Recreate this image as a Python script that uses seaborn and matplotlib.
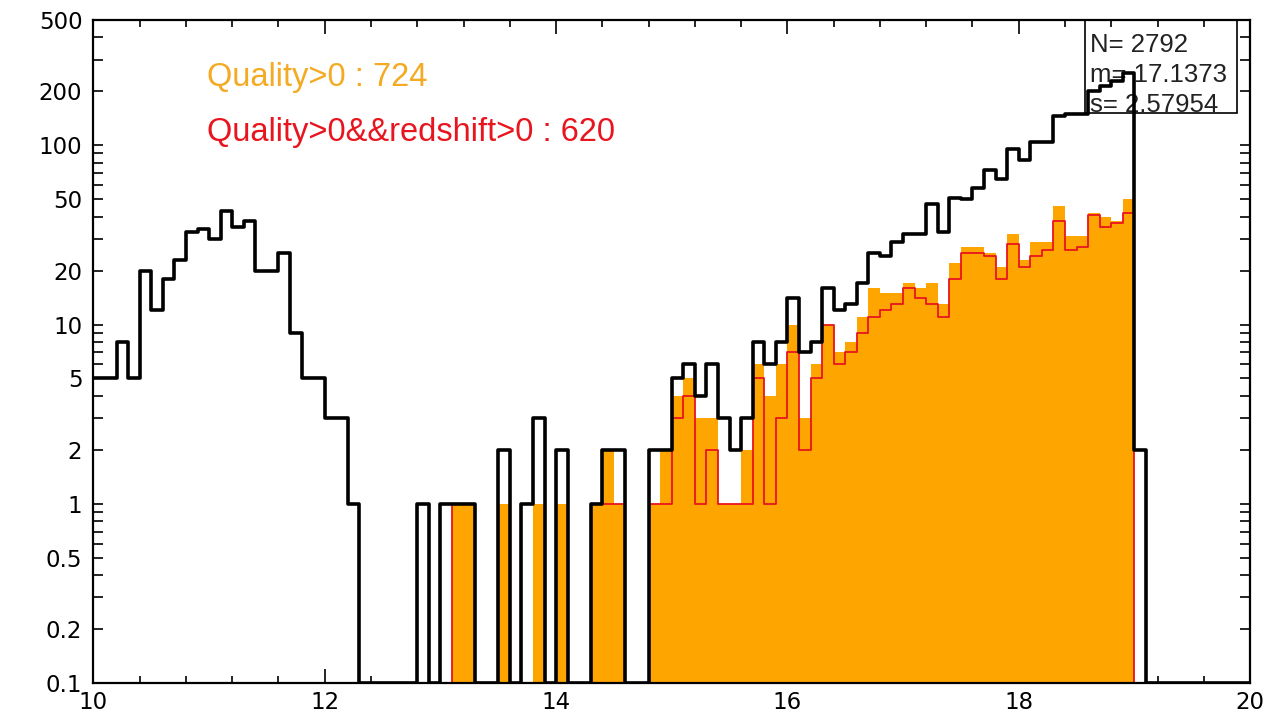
import numpy as np
import pandas as pd
import matplotlib
matplotlib.use("Agg")
import matplotlib.pyplot as plt
import seaborn as sns
from matplotlib.ticker import FixedLocator, FixedFormatter, NullFormatter
from matplotlib.patches import Rectangle

# Magnitude histogram, 100 bins of 0.1 between 10 and 20
mag_lo, mag_hi, n_bins = 10.0, 20.0, 100

# All sources (N = 2792)
counts_all = [
    5, 5, 8, 5, 20, 12, 18, 23, 33, 34,
    30, 43, 35, 38, 20, 20, 25, 9, 5, 5,
    3, 3, 1, 0, 0, 0, 0, 0, 1, 0,
    1, 1, 1, 0, 0, 2, 0, 1, 3, 0,
    2, 0, 0, 1, 2, 2, 0, 0, 2, 2,
    5, 6, 4, 6, 3, 2, 3, 8, 6, 8,
    14, 7, 8, 16, 12, 13, 17, 25, 24, 29,
    32, 32, 47, 33, 51, 50, 58, 73, 65, 95,
    83, 104, 104, 146, 149, 149, 200, 214, 229, 252,
    2, 0, 0, 0, 0, 0, 0, 0, 0, 0,
]

# Quality > 0 (724 sources)
counts_quality = [
    0, 0, 0, 0, 0, 0, 0, 0, 0, 0,
    0, 0, 0, 0, 0, 0, 0, 0, 0, 0,
    0, 0, 0, 0, 0, 0, 0, 0, 0, 0,
    0, 1, 1, 0, 0, 1, 0, 0, 1, 0,
    1, 0, 0, 1, 2, 1, 0, 0, 1, 2,
    4, 5, 3, 3, 1, 1, 2, 6, 4, 6,
    10, 3, 6, 10, 7, 8, 11, 16, 15, 15,
    17, 16, 17, 13, 22, 27, 27, 25, 21, 32,
    23, 29, 29, 46, 31, 31, 42, 40, 38, 50,
    0, 0, 0, 0, 0, 0, 0, 0, 0, 0,
]

# Quality > 0 && redshift > 0 (620 sources)
counts_quality_z = [
    0, 0, 0, 0, 0, 0, 0, 0, 0, 0,
    0, 0, 0, 0, 0, 0, 0, 0, 0, 0,
    0, 0, 0, 0, 0, 0, 0, 0, 0, 0,
    0, 1, 1, 0, 0, 0, 0, 0, 0, 0,
    0, 0, 0, 1, 1, 1, 0, 0, 1, 1,
    3, 4, 1, 2, 1, 1, 1, 5, 1, 3,
    7, 2, 5, 10, 6, 7, 9, 11, 12, 13,
    16, 14, 13, 11, 18, 25, 25, 24, 18, 28,
    21, 24, 26, 38, 26, 27, 41, 35, 37, 42,
    0, 0, 0, 0, 0, 0, 0, 0, 0, 0,
]

stats_lines = ["N= 2792", "m= 17.1373", "s= 2.57954"]
label_quality = "Quality>0 : 724"
label_quality_z = "Quality>0&&redshift>0 : 620"

y_ticks = [0.1, 0.2, 0.5, 1, 2, 5, 10, 20, 50, 100, 200, 500]
y_tick_labels = ["0.1", "0.2", "0.5", "1", "2", "5", "10", "20", "50", "100", "200", "500"]
x_ticks = [10, 12, 14, 16, 18, 20]

y_floor, y_top = 0.1, 500

edges = np.linspace(mag_lo, mag_hi, n_bins + 1).tolist()
centers = [0.5 * (a + b) for a, b in zip(edges[:-1], edges[1:])]
df = pd.DataFrame({
    "mag": centers,
    # empty bins sit on the plot floor, like a ROOT histogram
    "all": np.clip(np.array(counts_all, dtype=float), y_floor, None),
    "quality": counts_quality,
    "quality_z": counts_quality_z,
})

sns.set_theme(style="ticks")
plt.rcParams["font.family"] = ["DejaVu Sans"]

fig = plt.figure(figsize=(12.8, 7.27), dpi=100)
ax = fig.add_axes([0.073, 0.0605, 0.9036, 0.912])
ax.set_yscale("log")

orange = "#FFA500"
red = "#E8141E"

sns.histplot(data=df, x="mag", weights="quality", bins=edges, element="step",
             fill=True, color=orange, alpha=1.0, linewidth=0, ax=ax, zorder=2)
sns.histplot(data=df, x="mag", weights="quality_z", bins=edges, element="step",
             fill=False, color=red, linewidth=1.3, ax=ax, zorder=3)
sns.histplot(data=df, x="mag", weights="all", bins=edges, element="step",
             fill=False, color="black", linewidth=2.6, ax=ax, zorder=4)

ax.set_xlim(mag_lo, mag_hi)
ax.set_ylim(y_floor, y_top)
ax.set_xlabel("")
ax.set_ylabel("")

# axis ticks, inward on all four sides
ax.xaxis.set_major_locator(FixedLocator(x_ticks))
ax.xaxis.set_minor_locator(FixedLocator(np.arange(mag_lo, mag_hi + 0.01, 0.4)))
ax.yaxis.set_major_locator(FixedLocator(y_ticks))
ax.yaxis.set_major_formatter(FixedFormatter(y_tick_labels))
minor_y = [m * d for d in [0.1, 1, 10, 100] for m in range(1, 10)]
minor_y = [v for v in minor_y if y_floor <= v <= y_top and not any(np.isclose(v, t) for t in y_ticks)]
ax.yaxis.set_minor_locator(FixedLocator(minor_y))
ax.yaxis.set_minor_formatter(NullFormatter())
ax.tick_params(which="both", direction="in", top=True, right=True, colors="black",
               labelsize=16.5, width=1.2)
ax.tick_params(axis="x", which="major", length=10, pad=6)
ax.tick_params(axis="x", which="minor", length=5)
ax.tick_params(axis="y", which="major", length=7, pad=8)
ax.tick_params(axis="y", which="minor", length=7)
for sp in ax.spines.values():
    sp.set_linewidth(1.6)
    sp.set_color("black")
    sp.set_zorder(5)

# statistics box
box_x0, box_x1, box_y0 = 0.857, 0.9887, 0.86
ax.add_patch(Rectangle((box_x0, box_y0), box_x1 - box_x0, 1.0 - box_y0,
                       transform=ax.transAxes, fill=False, edgecolor="black",
                       linewidth=1.2, zorder=1))
for i, y in enumerate([0.962, 0.917, 0.872]):
    ax.text(box_x0 + 0.005, y, stats_lines[i], transform=ax.transAxes,
            fontsize=18.5, family=["Liberation Sans"], color="#222222",
            va="center", ha="left", zorder=1)

# selection labels
ax.text(0.098, 0.913, label_quality, transform=ax.transAxes, color="#F4AA22",
        fontsize=23.5, family=["Liberation Sans"], va="center", ha="left")
ax.text(0.098, 0.830, label_quality_z, transform=ax.transAxes, color=red,
        fontsize=23.5, family=["Liberation Sans"], va="center", ha="left")

fig.savefig("out.png", dpi=100)
